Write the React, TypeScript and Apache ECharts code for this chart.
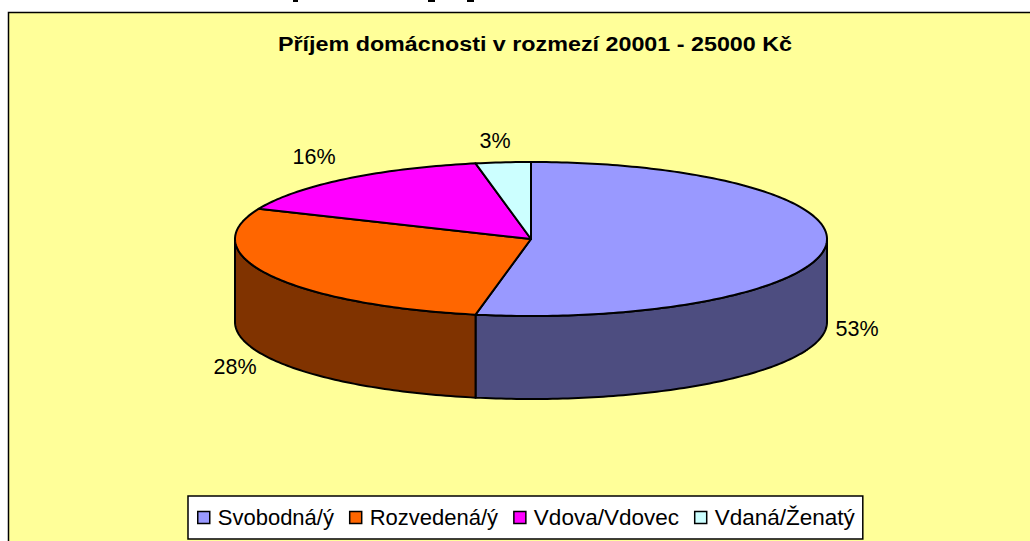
import React, { useEffect, useRef } from "react";
import * as echarts from "echarts";

const titleText = "Příjem domácnosti v rozmezí 20001 - 25000 Kč";
const categories = ["Svobodná/ý", "Rozvedená/ý", "Vdova/Vdovec", "Vdaná/Ženatý"];
const shares = [53, 28.4, 15.6, 3];
const percentLabels = ["53%", "28%", "16%", "3%"];
const topColors = ["#9999FF", "#FF6600", "#FF00FF", "#CCFFFF"];
const sideColors = ["#4D4D80", "#803300", "#800080", "#668080"];

const CX = 531, CY = 239, RX = 296, RY = 77, DEPTH = 83;
const FONT = "'Liberation Sans', Arial, sans-serif";
const labelPositions = [[857, 329], [235, 367], [314, 157], [495, 141]];
const legendFontSizes = [22, 22, 22.5, 22.5];
const clippedMarks = [[293, 5, 2], [428, 7, 2], [467, 7, 2]];

const total = shares.reduce((a, b) => a + b, 0);
const pt = (a: number, dy = 0) => [CX + RX * Math.sin(a), CY - RY * Math.cos(a) + dy];
const arc = (a: number, b: number, dy = 0) => {
  const n = Math.max(2, Math.ceil(Math.abs(b - a) / (Math.PI / 180)));
  const out: number[][] = [];
  for (let i = 0; i <= n; i++) out.push(pt(a + ((b - a) * i) / n, dy));
  return out;
};

function renderSlice(idx: number) {
  return (params: any, api: any) => {
    const before = shares.slice(0, idx).reduce((a, b) => a + b, 0);
    const v = api.value(0) as number;
    const a0 = (before / total) * 2 * Math.PI;
    const a1 = ((before + v) / total) * 2 * Math.PI;
    const children: any[] = [];
    const sa = Math.max(a0, Math.PI / 2);
    const sb = Math.min(a1, (3 * Math.PI) / 2);
    const stroke = { stroke: "#000", lineWidth: 2, lineJoin: "round" };
    if (sb > sa) {
      children.push({
        type: "polygon",
        shape: { points: [...arc(sa, sb), ...arc(sb, sa, DEPTH)] },
        style: { fill: sideColors[idx], ...stroke },
      });
    }
    children.push({
      type: "polygon",
      shape: { points: [[CX, CY], ...arc(a0, a1)] },
      style: { fill: topColors[idx], ...stroke },
    });
    children.push({
      type: "text",
      x: labelPositions[idx][0],
      y: labelPositions[idx][1],
      style: {
        text: percentLabels[idx],
        font: `21.5px ${FONT}`,
        fill: "#000",
        align: "center",
        verticalAlign: "middle",
      },
    });
    return { type: "group", children };
  };
}

export default function App() {
  const ref = useRef<HTMLDivElement>(null);
  useEffect(() => {
    document.body.style.margin = "0";
    const chart = echarts.init(ref.current!, undefined, { renderer: "svg" });
    chart.setOption({
      animation: false,
      backgroundColor: "#FFFFFF",
      graphic: [
        {
          type: "rect",
          z: -10,
          shape: { x: 8.5, y: 12.5, width: 1040, height: 560 },
          style: { fill: "#FFFF99", stroke: "#000", lineWidth: 1.5 },
        },
        ...clippedMarks.map((m) => ({
          type: "rect",
          z: -10,
          shape: { x: m[0], y: 0, width: m[1], height: m[2] },
          style: { fill: "#000" },
        })),
        {
          type: "text",
          x: 535,
          y: 44,
          scaleX: 1.11,
          style: {
            text: titleText,
            font: `bold 21px ${FONT}`,
            fill: "#000",
            align: "center",
            verticalAlign: "middle",
          },
        },
      ],
      legend: {
        left: 188,
        top: 496,
        orient: "horizontal",
        data: categories.map((name, i) => ({ name, textStyle: { fontSize: legendFontSizes[i] } })),
        icon: "rect",
        itemWidth: 12,
        itemHeight: 12,
        itemGap: 15,
        padding: [10, 8, 10, 9],
        backgroundColor: "#FFFFFF",
        borderColor: "#000",
        borderWidth: 1.5,
        itemStyle: { borderColor: "#000", borderWidth: 1.5 },
        textStyle: { fontFamily: "Liberation Sans", fontSize: 22, color: "#000", padding: [0, 0, 0, 3] },
      },
      series: categories.map((name, i) => ({
        type: "custom",
        name,
        coordinateSystem: "none",
        silent: true,
        itemStyle: { color: topColors[i] },
        renderItem: renderSlice(i),
        data: [[shares[i]]],
      })),
    });
    return () => chart.dispose();
  }, []);
  return <div ref={ref} style={{ position: "absolute", left: 0, top: 0, width: 1030, height: 541 }} />;
}
